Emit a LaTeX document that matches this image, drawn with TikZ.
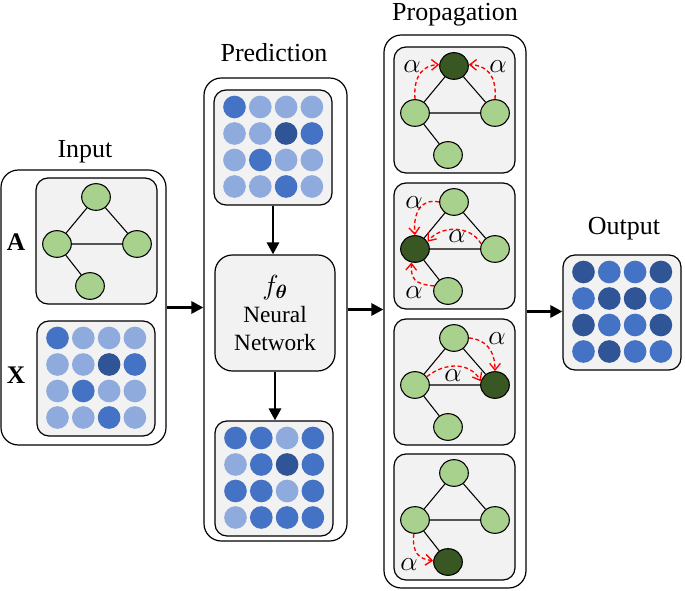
\documentclass[tikz,border=0pt]{standalone}
\usepackage{fontspec}
\setmainfont{Liberation Serif}
\usepackage{bm}
\usetikzlibrary{arrows.meta, positioning, fit, shapes.geometric}

\definecolor{bD}{HTML}{2F5597}
\definecolor{bM}{HTML}{4472C4}
\definecolor{bL}{HTML}{8FAADC}
\definecolor{gL}{HTML}{A9D18E}
\definecolor{gD}{HTML}{385723}
\definecolor{panel}{HTML}{F2F2F2}

\tikzset{
  outer/.style={draw, line width=0.9pt, rounded corners=13pt, inner sep=0pt},
  inner/.style={draw, line width=0.9pt, rounded corners=9pt, fill=panel, inner sep=0pt},
  vert/.style={ellipse, draw, line width=0.8pt, minimum width=21.5pt, minimum height=20pt, inner sep=0pt},
  dot/.style={circle, minimum size=17pt, inner sep=0pt},
  title/.style={font=\fontsize{19.5}{23}\selectfont},
  flow/.style={line width=2.2pt, -{Triangle[length=9pt, width=9pt]}},
  msg/.style={red, dash pattern=on 3pt off 2pt, line width=1pt, -{Straight Barb[length=5pt, width=8pt]}},
  wt/.style={font=\fontsize{20}{22}\selectfont},
}

\begin{document}
\begin{tikzpicture}[x=0.75pt, y=-0.75pt]
\useasboundingbox (0,0) rectangle (685,591);

\node [outer, fit={(1,170) (166,445)}] (input) {};
\node [outer, fit={(204,78) (347,541)}] (pred) {};
\node [outer, fit={(384,35) (526,588)}] (prop) {};

\node [title] (tin) at (85,152) {Input};
\node [title] (tpred) at (274,53) {Prediction};
\node [title] (tprop) at (455,15) {Propagation};
\node [title] (tout) at (624,229) {Output};

\node [font=\bfseries\fontsize{19}{22}\selectfont] (la) at (16,242) {A};
\node [font=\bfseries\fontsize{19}{22}\selectfont] (lx) at (16,375) {X};

\foreach \g/\ox/\oy/\ct/\cl/\cr/\cb in {adj/36/178/gL/gL/gL/gL, p1/394/47/gD/gL/gL/gL,
	p2/394/183/gL/gD/gL/gL, p3/394/319/gL/gL/gD/gL, p4/394/454/gL/gL/gL/gD}
{
	\node [inner, fit={(\ox,\oy) (\ox+121,\oy+126)}] (\g) {};
	\node [vert, fill=\ct] (\g-t) at (\ox+60,\oy+19) {};
	\node [vert, fill=\cl] (\g-l) at (\ox+21,\oy+66) {};
	\node [vert, fill=\cr] (\g-r) at (\ox+101,\oy+66) {};
	\node [vert, fill=\cb] (\g-b) at (\ox+54,\oy+108) {};
	\draw [line width=0.8pt] (\g-t) -- (\g-l) -- (\g-r) -- (\g-t) (\g-l) -- (\g-b);
}

\foreach \m/\ox/\oy/\vals in {xin/37/321/{M,L,L,L,L,L,D,M,L,M,L,L,L,L,M,L},
	xpred/214/90/{M,L,L,L,L,L,D,M,L,M,L,L,L,L,M,L},
	ypred/215/421/{M,M,L,M,L,M,D,M,M,M,L,M,L,M,M,M},
	yout/563/255/{D,M,M,D,M,D,D,M,D,M,M,D,M,D,M,M}}
{
	\node [inner, fit={(\ox,\oy) (\ox+118,\oy+115)}] (\m) {};
	\foreach \c [count=\i from 0] in \vals
	{
		\pgfmathtruncatemacro\col{mod(\i,4)}
		\pgfmathtruncatemacro\row{\i/4}
		\node [dot, fill=b\c] (\m-\i) at (\ox+20.5+25.8*\col, \oy+17+26.5*\row) {};
	}
}

\node [inner, rounded corners=13pt, minimum width=90pt, minimum height=87pt, align=center,
	font=\fontsize{17.5}{21}\selectfont] (nn) at (275,313)
	{{\fontsize{21}{21}\selectfont$f_{\bm\theta}$}\\Neural\\Network};

\draw [flow] (xpred) -- (xpred |- nn.north);
\draw [flow] (nn) -- (nn |- ypred.north);
\draw [flow] (input) -- (input -| pred.west);
\draw [flow] (pred) -- (pred -| prop.west);
\draw [flow] (prop) -- (prop -| yout.west);

\draw [msg] (p1-l.north) .. controls (413,75) and (424,65) .. (p1-t.175);
\draw [msg] (p1-r.north) .. controls (497,75) and (486,65) .. (p1-t.5);
\node [wt] (w1) at (412,67) {$\alpha$};
\node [wt] (w2) at (498,67) {$\alpha$};

\draw [msg] (p2-t.west) .. controls (420,198) and (413,214) .. (p2-l.north);
\draw [msg] (p2-r.160) .. controls (470,224) and (440,226) .. (p2-l.30);
\draw [msg] (p2-b.160) .. controls (413,284) and (411,278) .. (p2-l.-105);
\node [wt] (w3) at (414,203) {$\alpha$};
\node [wt] (w4) at (457,237) {$\alpha$};
\node [wt] (w5) at (414,293) {$\alpha$};

\draw [msg] (p3-t.east) .. controls (485,339) and (495,350) .. (p3-r.north);
\draw [msg] (p3-l.35) .. controls (445,362) and (470,362) .. (p3-r.165);
\node [wt] (w6) at (497,339) {$\alpha$};
\node [wt] (w7) at (453,376) {$\alpha$};

\draw [msg] (p4-l.-95) .. controls (412,552) and (418,559) .. (p4-b.175);
\node [wt] (w8) at (409,565) {$\alpha$};
\end{tikzpicture}
\end{document}
